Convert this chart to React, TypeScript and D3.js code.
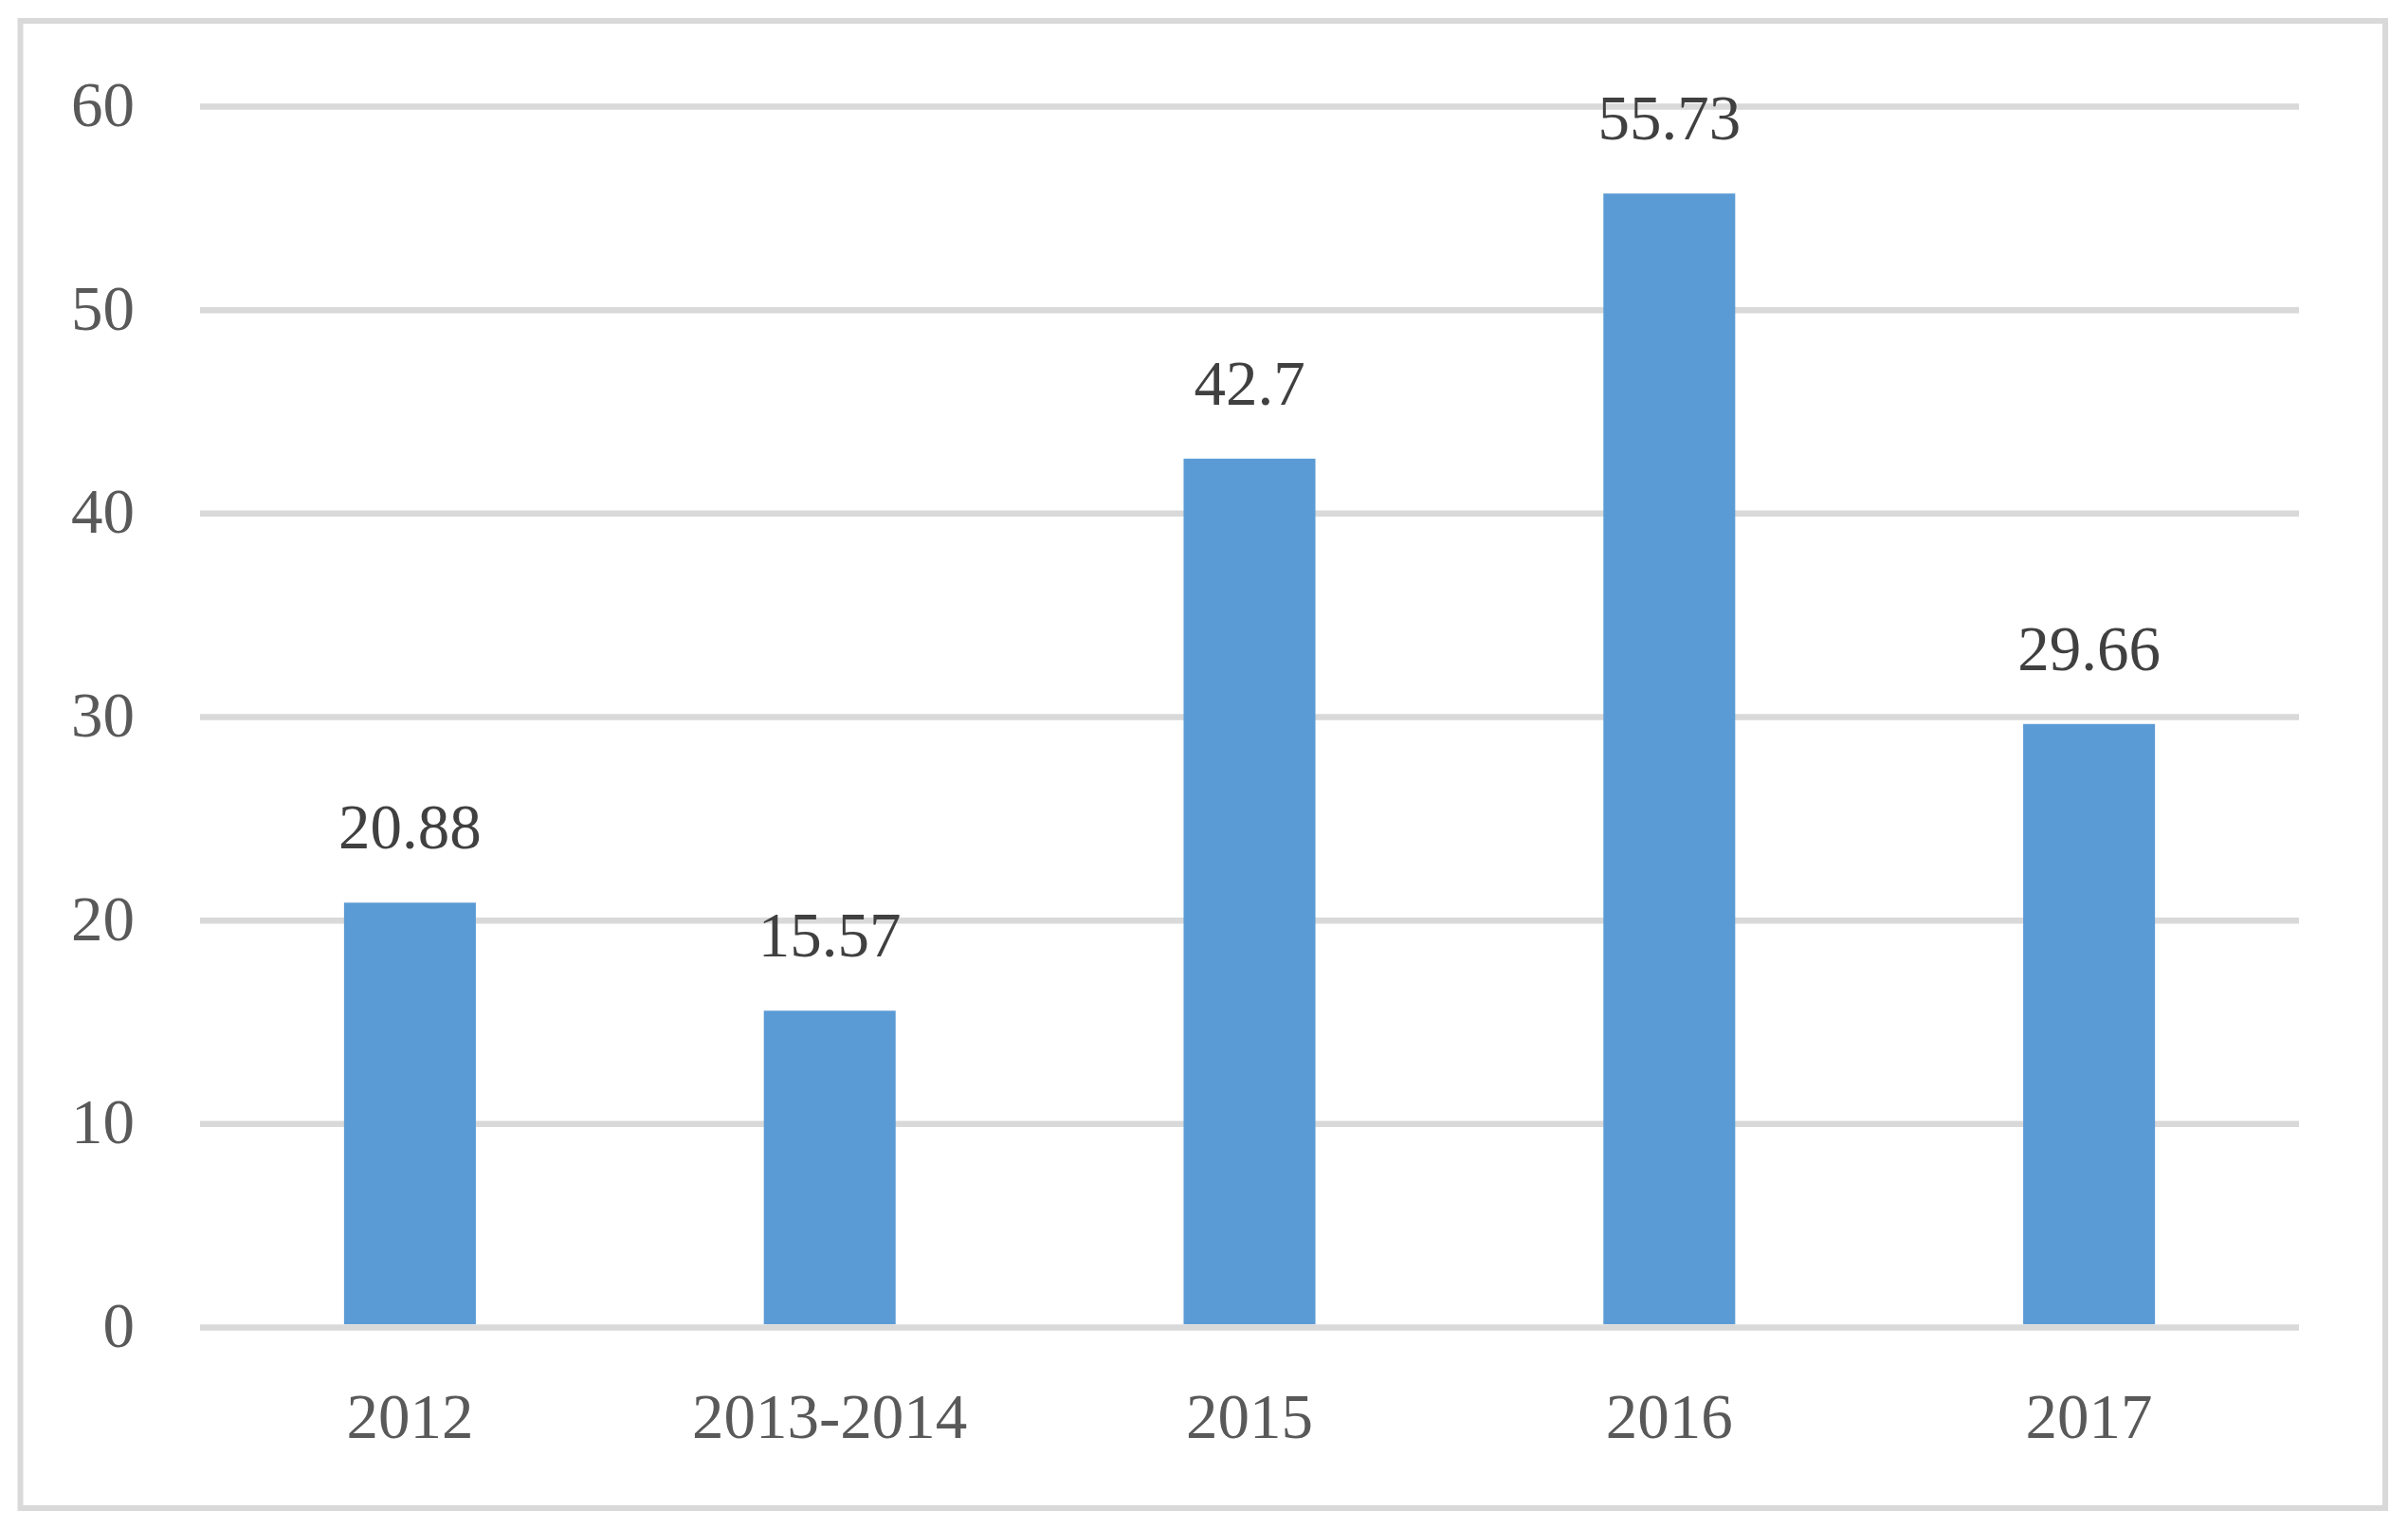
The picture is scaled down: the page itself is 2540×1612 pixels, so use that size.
import React from "react";
import * as d3 from "d3";

const categories: string[] = ["2012", "2013-2014", "2015", "2016", "2017"];
const values: number[] = [20.88, 15.57, 42.7, 55.73, 29.66];
const valueLabels: string[] = ["20.88", "15.57", "42.7", "55.73", "29.66"];
const yTicks: number[] = [0, 10, 20, 30, 40, 50, 60];

const W = 2540;
const H = 1612;
const plotLeft = 211;
const plotRight = 2425;
const plotTop = 112.5;
const plotBottom = 1400.5;
const FONT = "'Liberation Serif', 'Times New Roman', serif";

export default function App() {
  const x = d3
    .scaleBand<string>()
    .domain(categories)
    .range([plotLeft, plotRight])
    .paddingInner(0.686)
    .paddingOuter(0.343);
  const y = d3.scaleLinear().domain([0, 60]).range([plotBottom, plotTop]);

  return (
    <svg
      width={W}
      height={H}
      style={{ position: "absolute", left: 0, top: 0, display: "block", background: "#fff" }}
    >
      <rect x={0} y={0} width={W} height={H} fill="#fff" />
      <rect x={21.5} y={22} width={2494.5} height={1569} fill="none" stroke="#d9d9d9" strokeWidth={6} />
      {yTicks.map((t) => (
        <g key={t}>
          <line x1={plotLeft} x2={plotRight} y1={y(t)} y2={y(t)} stroke="#d9d9d9" strokeWidth={6.5} />
          <text
            x={142}
            y={y(t) + 20.5}
            textAnchor="end"
            fontFamily={FONT}
            fontSize={67}
            fill="#595959"
          >
            {t}
          </text>
        </g>
      ))}
      {categories.map((c, i) => {
        const bx = x(c) as number;
        const bw = x.bandwidth();
        return (
          <g key={c}>
            <rect x={bx} y={y(values[i])} width={bw} height={plotBottom - 3.5 - y(values[i])} fill="#5b9bd5" />
            <text
              x={bx + bw / 2}
              y={y(values[i]) - 57}
              textAnchor="middle"
              fontFamily={FONT}
              fontSize={67}
              fill="#404040"
            >
              {valueLabels[i]}
            </text>
            <text
              x={bx + bw / 2}
              y={1517}
              textAnchor="middle"
              fontFamily={FONT}
              fontSize={67}
              fill="#595959"
            >
              {c}
            </text>
          </g>
        );
      })}
    </svg>
  );
}
